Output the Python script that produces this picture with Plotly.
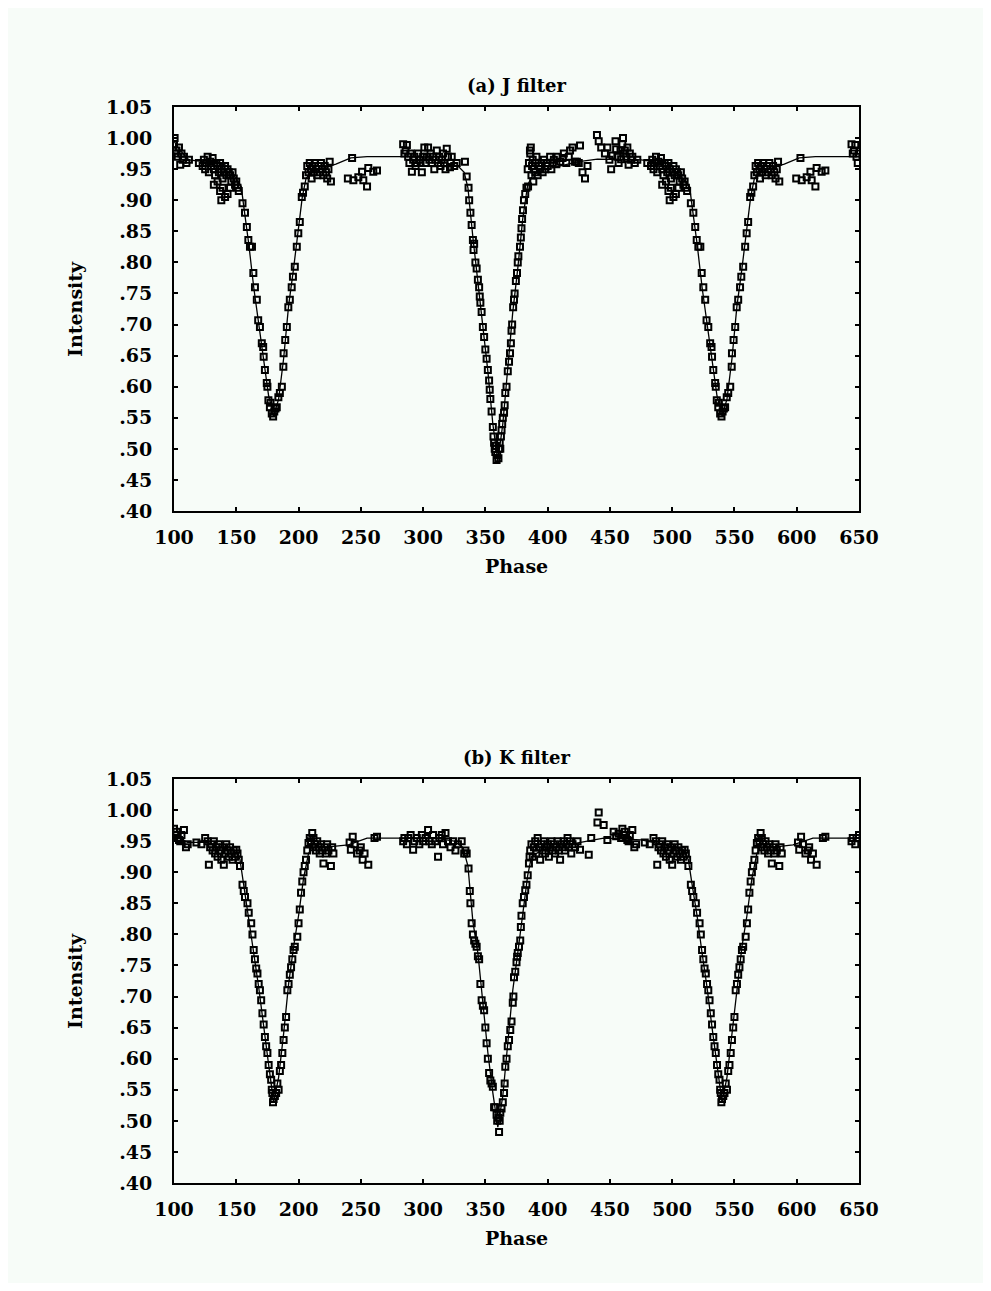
import plotly.graph_objects as go

# ---------------- data (phase in degrees within one cycle, intensity) ----------------
J_obs = [
    # primary egress
    (0.5,0.485),(1,0.50),(1.5,0.51),(2,0.50),(2.5,0.52),(3,0.53),(3.5,0.54),(4,0.55),(5,0.558),(5.5,0.57),
    (6,0.59),(7,0.60),(8,0.625),(9,0.64),(9.8,0.654),(10.5,0.67),(11,0.69),(11.5,0.70),(12.3,0.728),(13,0.74),
    (13.5,0.75),(14.5,0.77),(15.4,0.783),(16,0.80),(16.5,0.81),(17.8,0.825),(18.5,0.84),(19,0.855),(19.5,0.87),
    (20.2,0.884),(21,0.90),(22,0.91),(23,0.92),(24.3,0.922),(25.8,0.98),
    # post-primary plateau
    (24,0.95),(25,0.96),(26,0.975),(26.5,0.985),(27,0.94),(27.5,0.955),(28,0.965),(28.5,0.93),(29,0.95),(30,0.945),
    (30.5,0.96),(31,0.97),(32,0.94),(33,0.955),(34,0.95),(35,0.96),(36,0.945),(37,0.965),(38,0.95),(39,0.96),
    (40,0.955),(42,0.97),(43,0.95),(44,0.96),(45,0.965),(47,0.958),(48,0.97),(50,0.962),(52,0.968),(53,0.975),
    (55,0.96),(57,0.97),(58,0.98),(60,0.985),(62,0.962),(63.5,0.962),(65,0.96),(66,0.988),(68,0.945),(70,0.935),(72,0.955),
    # maximum region
    (79.6,1.005),(81,0.995),(83,0.985),(86,0.975),(88,0.985),(89.6,0.965),(91,0.95),(92,0.972),(94.5,0.995),
    (95,0.982),(96,0.97),(97,0.96),(98.5,0.98),(99,0.966),(100,0.99),(100.5,1.0),(101,0.975),(102,0.98),
    (103,0.97),(104,0.985),(105,0.957),(106,0.975),(107,0.965),(108,0.97),(110,0.96),(112,0.965),
    # pre-secondary
    (120,0.96),(123,0.955),(124,0.965),(125,0.95),(126,0.96),(127,0.97),(128,0.945),(129,0.962),(130,0.955),
    (131,0.968),(132,0.95),(133,0.94),(134,0.96),(135,0.955),(136,0.945),(137,0.96),(138,0.95),(139,0.935),
    (140,0.945),(141,0.955),(142,0.94),(143,0.95),(144,0.945),(145,0.94),(146,0.93),(147,0.945),(148,0.935),
    (149,0.925),(150,0.93),(151,0.92),(152,0.915),
    (132,0.925),(135,0.93),(137,0.915),(139,0.92),(141,0.905),(143,0.91),(145,0.92),(138,0.90),
    # secondary eclipse
    (155,0.895),(157,0.88),(158.5,0.857),(159.7,0.836),(161,0.825),(162.6,0.825),(163.7,0.783),(165,0.76),
    (166.5,0.74),(167.6,0.707),(169,0.696),(170.5,0.67),(171.6,0.664),(172,0.648),(173,0.627),(174.5,0.606),
    (175,0.60),(175.8,0.578),(177,0.567),(177.5,0.574),(178.5,0.557),(179.6,0.552),(180.5,0.56),(181.5,0.565),
    (182.5,0.567),(183.8,0.583),(185,0.59),(186.6,0.60),(187.8,0.632),(188,0.654),(189.3,0.675),(190.6,0.696),
    (191.8,0.728),(193,0.74),(194.5,0.76),(195.5,0.777),(197,0.793),(198.6,0.825),(199.8,0.847),(201,0.865),
    (202.6,0.905),(203.6,0.912),(205,0.922),
    # post-secondary
    (206,0.94),(207,0.955),(208,0.945),(209,0.96),(210,0.95),(210.5,0.935),(211,0.955),(212,0.945),(213,0.96),
    (214,0.95),(215,0.94),(216,0.955),(217,0.945),(218,0.96),(219,0.95),(220,0.94),(221,0.955),(222,0.945),
    (223,0.935),(224,0.95),(225,0.962),(226,0.93),(243,0.968),
    (239.6,0.935),(244,0.932),(248,0.937),(251,0.946),(252,0.932),(255,0.922),(256,0.952),(260,0.946),(263,0.948),
    # maximum before primary
    (284,0.99),(285,0.975),(286,0.98),(287,0.989),(288,0.97),(289,0.96),(290,0.975),(291,0.946),(292,0.965),
    (293,0.97),(294,0.955),(295,0.96),(296,0.975),(297,0.965),(298,0.96),(299,0.945),(300,0.97),(301,0.985),
    (302,0.96),(303,0.97),(304,0.985),(305,0.965),(306,0.975),(307,0.96),(308,0.97),(309,0.95),(310,0.965),
    (311,0.98),(312,0.96),(313,0.97),(314,0.955),(315,0.965),(316,0.975),(317,0.96),(318,0.95),(319,0.983),
    (320,0.97),(321.6,0.953),(322,0.96),(323,0.97),(325,0.955),(327,0.96),
    # primary ingress
    (333.6,0.962),(335,0.938),(336.5,0.92),(337,0.90),(338,0.88),(339,0.86),(340,0.836),(340.5,0.82),(341,0.83),
    (342,0.80),(343,0.79),(344,0.772),(345,0.76),(345.5,0.745),(346,0.735),(347,0.72),(348,0.696),(349,0.68),
    (350,0.66),(351,0.645),(352,0.627),(353,0.61),(353.5,0.595),(354,0.58),(355,0.56),(356,0.535),(356.5,0.52),
    (357,0.51),(357.5,0.50),(358,0.495),(358.5,0.505),(359,0.482),(359.5,0.49),
]

K_obs = [
    # primary egress
    (0.5,0.505),(1,0.482),(1.5,0.50),(2,0.513),(3,0.52),(4,0.53),(5,0.545),(5.5,0.56),(6,0.587),(7,0.60),
    (8,0.62),(9,0.63),(10,0.646),(11,0.66),(12,0.69),(12.5,0.70),(13,0.731),(14,0.74),(15,0.755),(15.5,0.764),
    (16,0.77),(17,0.78),(18,0.79),(18.5,0.812),(19,0.83),(20,0.85),(21,0.86),(22,0.871),(23,0.88),(24,0.895),
    (25,0.914),(25.5,0.925),
    # post-primary plateau
    (26,0.935),(27,0.945),(28,0.925),(29,0.94),(30,0.95),(31,0.93),(32,0.955),(33,0.94),(34,0.92),(35,0.945),
    (36,0.935),(37,0.95),(38,0.93),(39,0.94),(40,0.945),(41,0.925),(42,0.94),(43,0.95),(44,0.935),(45,0.945),
    (46,0.93),(47,0.94),(48,0.95),(49,0.935),(50,0.92),(51,0.945),(52,0.94),(53,0.95),(54,0.935),(55,0.945),
    (56,0.955),(57,0.94),(58,0.95),(59,0.93),(60,0.945),(62,0.94),(64,0.95),(66,0.936),(73,0.928),(75,0.955),
    # maximum region
    (80,0.98),(81,0.996),(85,0.976),(88,0.952),(93,0.965),(95,0.958),(97,0.962),(99,0.955),(100,0.97),
    (101,0.96),(102,0.965),(103,0.955),(104,0.952),(105,0.95),(106,0.96),(108,0.968),(109.6,0.94),(111,0.945),
    # pre-secondary
    (118,0.948),(122,0.945),(125,0.955),(127,0.95),(128,0.912),(129,0.94),(130,0.945),(131,0.935),(132,0.95),
    (133,0.93),(134,0.94),(135,0.925),(136,0.945),(137,0.935),(138,0.92),(139,0.94),(140,0.912),(141,0.93),
    (142,0.945),(143,0.935),(144,0.925),(145,0.94),(146,0.93),(147,0.92),(148,0.935),(149,0.925),(150,0.936),
    (151,0.93),(152,0.92),(153,0.91),
    # secondary eclipse
    (155,0.88),(156,0.87),(157,0.86),(159,0.85),(160,0.835),(162,0.818),(163,0.80),(164,0.775),(165,0.76),
    (166,0.745),(167,0.737),(168,0.72),(169,0.71),(170,0.694),(171,0.673),(172,0.655),(173,0.635),(174,0.62),
    (175,0.609),(176,0.59),(177,0.575),(178,0.566),(178.5,0.55),(179,0.545),(179.5,0.53),(180,0.535),
    (181,0.54),(182,0.545),(183,0.56),(184,0.55),(185,0.58),(186,0.59),(187,0.609),(188,0.63),(189,0.65),
    (190,0.667),(191,0.71),(192,0.72),(193,0.735),(194,0.747),(195,0.76),(196,0.775),(197,0.78),(199,0.796),
    (200,0.818),(201,0.84),(202,0.867),(203,0.885),(204,0.90),(205,0.91),(206,0.92),(207,0.935),(208,0.947),
    (209,0.955),(211,0.963),
    # post-secondary
    (210,0.95),(211.5,0.94),(212,0.955),(213,0.945),(214,0.935),(215,0.95),(216,0.94),(217,0.93),(218,0.945),
    (219,0.935),(220,0.914),(221,0.94),(222,0.93),(223,0.945),(224,0.935),(226,0.91),(227,0.94),(228,0.93),
    (241,0.948),(242,0.936),(243.5,0.957),(245,0.945),(247,0.93),(249,0.935),(250,0.94),(251.5,0.92),(253,0.93),
    (256,0.912),(261,0.955),(263,0.957),
    # maximum before primary
    (284,0.95),(285,0.955),(287,0.945),(288,0.955),(290,0.96),(292,0.936),(293,0.95),(295,0.955),(297,0.945),
    (299,0.96),(300,0.95),(302,0.955),(304,0.968),(305,0.95),(307,0.945),(308,0.96),(310,0.95),(312,0.925),
    (313,0.955),(315,0.96),(316,0.945),(318,0.963),(320,0.95),(322,0.94),(324,0.95),(326,0.935),(328,0.945),
    (331,0.95),(333,0.93),
    # primary ingress
    (334,0.935),(335,0.93),(336.5,0.906),(337.5,0.87),(338,0.85),(339,0.818),(340,0.80),(341,0.79),(342,0.785),
    (343,0.78),(344,0.765),(345,0.76),(346,0.72),(347,0.694),(348,0.685),(349,0.678),(350,0.65),(351,0.625),
    (352,0.60),(353,0.577),(354,0.565),(355,0.56),(356,0.555),(357,0.522),(358,0.522),(359,0.51),(359.5,0.50),
]

# model light curves, read along the plotted range
J_model_phase = [100,105,112,120,135,143,148,154,156,160,164,168,172,176,180,184,188,192,196,200,203,206,210,220,
                 230,242,255,300,320,328,333,336,340,344,348,352,356,360,364,368,372,376,380,384,388,395,410,425,
                 440,475,485,495,506,514,516,520,524,528,532,536,540,544,548,552,556,560,563,566,570,580,590,602,615,650]
J_model_int = [0.995,0.98,0.965,0.963,0.962,0.955,0.94,0.922,0.89,0.83,0.76,0.70,0.645,0.585,0.553,0.58,0.645,0.73,
               0.79,0.855,0.905,0.935,0.945,0.952,0.958,0.968,0.97,0.97,0.96,0.955,0.945,0.92,0.84,0.77,0.70,0.625,
               0.54,0.48,0.54,0.625,0.72,0.79,0.87,0.925,0.94,0.948,0.955,0.962,0.966,0.965,0.962,0.955,0.94,0.922,
               0.89,0.83,0.76,0.70,0.645,0.585,0.553,0.58,0.645,0.73,0.79,0.855,0.905,0.935,0.945,0.952,0.958,0.968,
               0.97,0.97]

K_model_phase = [100,104,111,127,135,150,153,156,160,164,168,172,176,180,184,188,192,196,200,204,208,212,220,240,
                 255,310,325,332,336,340,344,348,352,356,360,364,368,372,376,380,384,387,395,410,430,445,475,490,
                 509,513,516,520,524,528,532,536,540,544,548,552,556,560,564,568,572,580,597,613,650]
K_model_int = [0.96,0.955,0.948,0.948,0.94,0.935,0.92,0.88,0.83,0.77,0.715,0.65,0.59,0.53,0.57,0.64,0.72,0.78,0.83,
               0.89,0.93,0.945,0.94,0.944,0.955,0.955,0.95,0.94,0.91,0.82,0.77,0.69,0.61,0.545,0.49,0.54,0.62,0.71,
               0.77,0.83,0.895,0.925,0.935,0.942,0.95,0.955,0.952,0.946,0.936,0.92,0.88,0.83,0.77,0.715,0.65,0.59,
               0.53,0.57,0.64,0.72,0.78,0.83,0.89,0.93,0.945,0.94,0.944,0.955,0.955]

x_ticks = [100,150,200,250,300,350,400,450,500,550,600,650]
y_ticks = [0.40,0.45,0.50,0.55,0.60,0.65,0.70,0.75,0.80,0.85,0.90,0.95,1.00,1.05]
y_tick_text = [".40",".45",".50",".55",".60",".65",".70",".75",".80",".85",".90",".95","1.00","1.05"]

PHASE_MIN, PHASE_MAX, PERIOD = 100, 650, 360


def unfold(points):
    """Place each folded observation at every cycle that falls in the plotted phase range."""
    xs, ys = [], []
    for p, v in points:
        for k in range(0, 3):
            x = p + k * PERIOD
            if PHASE_MIN <= x <= PHASE_MAX:
                xs.append(x)
                ys.append(v)
    return xs, ys


BG = "#f7fcf8"
FONT = "DejaVu Serif"

fig = go.Figure()
panels = [
    (J_obs, J_model_phase, J_model_int, "x", "y"),
    (K_obs, K_model_phase, K_model_int, "x2", "y2"),
]
for obs, mp, mi, xa, ya in panels:
    fig.add_trace(go.Scatter(x=mp, y=mi, mode="lines", xaxis=xa, yaxis=ya,
                             line=dict(color="black", width=1.3), showlegend=False, hoverinfo="skip"))
    xs, ys = unfold(obs)
    fig.add_trace(go.Scatter(x=xs, y=ys, mode="markers", xaxis=xa, yaxis=ya,
                             marker=dict(symbol="square-open", size=6, color="black", line=dict(width=2)),
                             showlegend=False))

# page body has an 8px margin, so the figure is offset by 8px from the window corner
OFF = 8
W, H = 991 - 2 * OFF, 1291 - 2 * OFF
left, right = 174 - OFF, 859 - OFF
top_panel = (107 - OFF, 511 - OFF)
bot_panel = (779 - OFF, 1183 - OFF)


def ydom(t, b):
    return [1 - b / H, 1 - t / H]


axis_common = dict(showline=True, linecolor="black", linewidth=2, mirror="ticks", ticks="inside",
                   ticklen=4, tickwidth=1.5, tickcolor="black", showgrid=False, zeroline=False,
                   automargin=False, tickfont=dict(family=FONT, size=19, color="black", weight="bold"))

fig.update_layout(
    width=W, height=H, paper_bgcolor=BG, plot_bgcolor=BG,
    margin=dict(l=0, r=0, t=0, b=0),
    xaxis=dict(domain=[left / W, right / W], range=[PHASE_MIN, PHASE_MAX], tickvals=x_ticks,
               anchor="y", ticklabelstandoff=8, **axis_common),
    yaxis=dict(domain=ydom(*top_panel), range=[0.40, 1.05], tickvals=y_ticks, ticktext=y_tick_text,
               anchor="x", ticklabelstandoff=16, **axis_common),
    xaxis2=dict(domain=[left / W, right / W], range=[PHASE_MIN, PHASE_MAX], tickvals=x_ticks,
                anchor="y2", ticklabelstandoff=8, **axis_common),
    yaxis2=dict(domain=ydom(*bot_panel), range=[0.40, 1.05], tickvals=y_ticks, ticktext=y_tick_text,
                anchor="x2", ticklabelstandoff=16, **axis_common),
)

cx = (left + right) / 2 / W
anns = [
    ("(a) J filter", 85, 0, 18),
    ("Phase", 566, 0, 19),
    ("Intensity", 309, -90, 19),
    ("(b) K filter", 757, 0, 18),
    ("Phase", 1238, 0, 19),
    ("Intensity", 981, -90, 19),
]
for text, ypix, ang, fs in anns:
    fig.add_annotation(text=text, x=cx if ang == 0 else (75 - OFF) / W, y=1 - (ypix - OFF) / H,
                       xref="paper", yref="paper", showarrow=False, textangle=ang,
                       font=dict(family=FONT, size=fs, color="black", weight="bold"),
                       xanchor="center", yanchor="middle")

fig.write_html("out.html")
